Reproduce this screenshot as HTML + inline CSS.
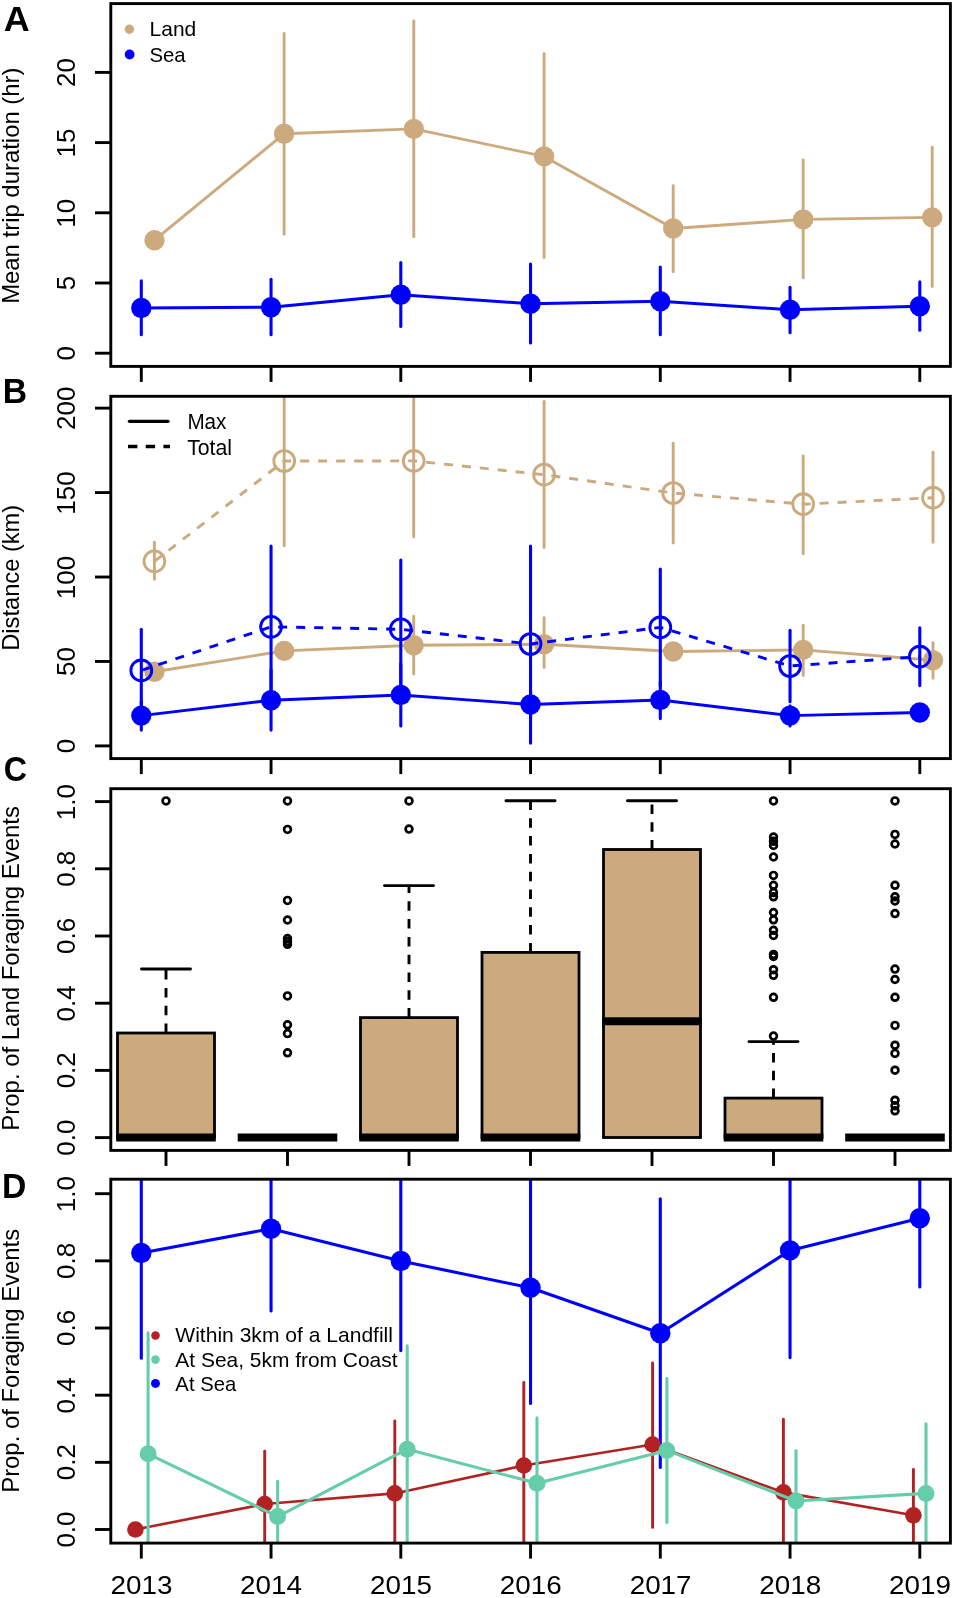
<!DOCTYPE html>
<html><head><meta charset="utf-8"><style>html,body{margin:0;padding:0;background:#fff;}svg{display:block;filter:blur(0.45px);}text{font-family:"Liberation Sans",sans-serif;}</style></head><body>
<svg width="955" height="1598" viewBox="0 0 955 1598" font-family="Liberation Sans, sans-serif">
<rect width="955" height="1598" fill="#fff"/>
<defs><clipPath id="cA"><rect x="110.8" y="3.6" width="839.6" height="362.8"/></clipPath><clipPath id="cB"><rect x="110.8" y="396.3" width="839.6" height="362.3"/></clipPath><clipPath id="cC"><rect x="110.8" y="788.7" width="839.6" height="361.7"/></clipPath><clipPath id="cD"><rect x="110.8" y="1179.2" width="839.6" height="363.9"/></clipPath></defs>
<g clip-path="url(#cA)">
<polyline points="154.5,240.2 284.1,133.8 413.8,128.9 544.1,156.4 673.2,228.5 803.2,219.4 932.2,217.4" fill="none" stroke="#CDAA7D" stroke-width="2.9" stroke-linejoin="round" stroke-linecap="butt"/>
<line x1="284.1" y1="33.4" x2="284.1" y2="234.2" stroke="#CDAA7D" stroke-width="2.9" stroke-linecap="round"/>
<line x1="413.8" y1="21" x2="413.8" y2="236.8" stroke="#CDAA7D" stroke-width="2.9" stroke-linecap="round"/>
<line x1="544.1" y1="53.7" x2="544.1" y2="257.6" stroke="#CDAA7D" stroke-width="2.9" stroke-linecap="round"/>
<line x1="673.2" y1="185.8" x2="673.2" y2="271.8" stroke="#CDAA7D" stroke-width="2.9" stroke-linecap="round"/>
<line x1="803.2" y1="159.9" x2="803.2" y2="277.9" stroke="#CDAA7D" stroke-width="2.9" stroke-linecap="round"/>
<line x1="932.2" y1="147.2" x2="932.2" y2="286.6" stroke="#CDAA7D" stroke-width="2.9" stroke-linecap="round"/>
<circle cx="154.5" cy="240.2" r="10.2" fill="#CDAA7D"/>
<circle cx="284.1" cy="133.8" r="10.2" fill="#CDAA7D"/>
<circle cx="413.8" cy="128.9" r="10.2" fill="#CDAA7D"/>
<circle cx="544.1" cy="156.4" r="10.2" fill="#CDAA7D"/>
<circle cx="673.2" cy="228.5" r="10.2" fill="#CDAA7D"/>
<circle cx="803.2" cy="219.4" r="10.2" fill="#CDAA7D"/>
<circle cx="932.2" cy="217.4" r="10.2" fill="#CDAA7D"/>
<polyline points="141.3,308 271.05,307.2 400.8,294.8 530.55,303.7 660.3,301.2 790.05,309.8 919.8,306.2" fill="none" stroke="#0000FF" stroke-width="2.9" stroke-linejoin="round" stroke-linecap="butt"/>
<line x1="141.3" y1="280.9" x2="141.3" y2="334.8" stroke="#0000FF" stroke-width="3.1" stroke-linecap="round"/>
<line x1="271.05" y1="279.2" x2="271.05" y2="334.8" stroke="#0000FF" stroke-width="3.1" stroke-linecap="round"/>
<line x1="400.8" y1="262.6" x2="400.8" y2="326.5" stroke="#0000FF" stroke-width="3.1" stroke-linecap="round"/>
<line x1="530.55" y1="264" x2="530.55" y2="342.9" stroke="#0000FF" stroke-width="3.1" stroke-linecap="round"/>
<line x1="660.3" y1="267" x2="660.3" y2="334.8" stroke="#0000FF" stroke-width="3.1" stroke-linecap="round"/>
<line x1="790.05" y1="287.4" x2="790.05" y2="332.8" stroke="#0000FF" stroke-width="3.1" stroke-linecap="round"/>
<line x1="919.8" y1="281.7" x2="919.8" y2="330.2" stroke="#0000FF" stroke-width="3.1" stroke-linecap="round"/>
<circle cx="141.3" cy="308" r="10.2" fill="#0000FF"/>
<circle cx="271.05" cy="307.2" r="10.2" fill="#0000FF"/>
<circle cx="400.8" cy="294.8" r="10.2" fill="#0000FF"/>
<circle cx="530.55" cy="303.7" r="10.2" fill="#0000FF"/>
<circle cx="660.3" cy="301.2" r="10.2" fill="#0000FF"/>
<circle cx="790.05" cy="309.8" r="10.2" fill="#0000FF"/>
<circle cx="919.8" cy="306.2" r="10.2" fill="#0000FF"/>
</g>
<rect x="110.8" y="3.6" width="839.6" height="362.8" fill="none" stroke="#000" stroke-width="2.9"/>
<line x1="95" y1="353.2" x2="110.8" y2="353.2" stroke="#000" stroke-width="2.9"/>
<text transform="translate(74.8,360.45) rotate(-90)" font-size="26" textLength="14.46" lengthAdjust="spacingAndGlyphs" fill="#000">0</text>
<line x1="95" y1="283" x2="110.8" y2="283" stroke="#000" stroke-width="2.9"/>
<text transform="translate(74.8,290.2) rotate(-90)" font-size="26" textLength="14.46" lengthAdjust="spacingAndGlyphs" fill="#000">5</text>
<line x1="95" y1="212.8" x2="110.8" y2="212.8" stroke="#000" stroke-width="2.9"/>
<text transform="translate(74.8,227.75) rotate(-90)" font-size="26" textLength="28.92" lengthAdjust="spacingAndGlyphs" fill="#000">10</text>
<line x1="95" y1="142.6" x2="110.8" y2="142.6" stroke="#000" stroke-width="2.9"/>
<text transform="translate(74.8,157.5) rotate(-90)" font-size="26" textLength="28.92" lengthAdjust="spacingAndGlyphs" fill="#000">15</text>
<line x1="95" y1="72.4" x2="110.8" y2="72.4" stroke="#000" stroke-width="2.9"/>
<text transform="translate(74.8,87.01) rotate(-90)" font-size="26" textLength="28.92" lengthAdjust="spacingAndGlyphs" fill="#000">20</text>
<line x1="141.3" y1="366.4" x2="141.3" y2="381.9" stroke="#000" stroke-width="2.9"/>
<line x1="271.05" y1="366.4" x2="271.05" y2="381.9" stroke="#000" stroke-width="2.9"/>
<line x1="400.8" y1="366.4" x2="400.8" y2="381.9" stroke="#000" stroke-width="2.9"/>
<line x1="530.55" y1="366.4" x2="530.55" y2="381.9" stroke="#000" stroke-width="2.9"/>
<line x1="660.3" y1="366.4" x2="660.3" y2="381.9" stroke="#000" stroke-width="2.9"/>
<line x1="790.05" y1="366.4" x2="790.05" y2="381.9" stroke="#000" stroke-width="2.9"/>
<line x1="919.8" y1="366.4" x2="919.8" y2="381.9" stroke="#000" stroke-width="2.9"/>
<circle cx="129.4" cy="29.2" r="4.7" fill="#CDAA7D"/>
<circle cx="129.6" cy="54.5" r="4.9" fill="#0000FF"/>
<text x="149.58" y="36.4" font-size="21" font-weight="normal" textLength="46.68" lengthAdjust="spacingAndGlyphs" fill="#000">Land</text>
<text x="149.47" y="61.8" font-size="21" font-weight="normal" textLength="36.12" lengthAdjust="spacingAndGlyphs" fill="#000">Sea</text>
<g clip-path="url(#cB)">
<polyline points="154.4,561.3 284.2,461 413.7,460.9 544.1,474.7 673.2,493 803.2,504.2 933,497.7" fill="none" stroke="#CDAA7D" stroke-width="2.9" stroke-linejoin="round" stroke-linecap="butt" stroke-dasharray="9 9" stroke-dashoffset="0"/>
<line x1="154.4" y1="542.3" x2="154.4" y2="579.3" stroke="#CDAA7D" stroke-width="2.9" stroke-linecap="round"/>
<line x1="284.2" y1="376.4" x2="284.2" y2="545.8" stroke="#CDAA7D" stroke-width="2.9" stroke-linecap="round"/>
<line x1="413.7" y1="381.4" x2="413.7" y2="537.1" stroke="#CDAA7D" stroke-width="2.9" stroke-linecap="round"/>
<line x1="544.1" y1="401.4" x2="544.1" y2="547.5" stroke="#CDAA7D" stroke-width="2.9" stroke-linecap="round"/>
<line x1="673.2" y1="443.2" x2="673.2" y2="543.1" stroke="#CDAA7D" stroke-width="2.9" stroke-linecap="round"/>
<line x1="803.2" y1="455.9" x2="803.2" y2="553.7" stroke="#CDAA7D" stroke-width="2.9" stroke-linecap="round"/>
<line x1="933" y1="452.3" x2="933" y2="542.2" stroke="#CDAA7D" stroke-width="2.9" stroke-linecap="round"/>
<circle cx="154.4" cy="561.3" r="10.4" fill="none" stroke="#CDAA7D" stroke-width="2.9"/>
<circle cx="284.2" cy="461" r="10.4" fill="none" stroke="#CDAA7D" stroke-width="2.9"/>
<circle cx="413.7" cy="460.9" r="10.4" fill="none" stroke="#CDAA7D" stroke-width="2.9"/>
<circle cx="544.1" cy="474.7" r="10.4" fill="none" stroke="#CDAA7D" stroke-width="2.9"/>
<circle cx="673.2" cy="493" r="10.4" fill="none" stroke="#CDAA7D" stroke-width="2.9"/>
<circle cx="803.2" cy="504.2" r="10.4" fill="none" stroke="#CDAA7D" stroke-width="2.9"/>
<circle cx="933" cy="497.7" r="10.4" fill="none" stroke="#CDAA7D" stroke-width="2.9"/>
<polyline points="154.4,671.8 284.2,650.9 413.7,645.2 544.1,644.2 673.2,651.5 803.2,649.9 933,660.3" fill="none" stroke="#CDAA7D" stroke-width="2.9" stroke-linejoin="round" stroke-linecap="butt"/>
<line x1="413.7" y1="616.1" x2="413.7" y2="674" stroke="#CDAA7D" stroke-width="2.9" stroke-linecap="round"/>
<line x1="544.1" y1="617.8" x2="544.1" y2="667.4" stroke="#CDAA7D" stroke-width="2.9" stroke-linecap="round"/>
<line x1="803.2" y1="625.3" x2="803.2" y2="675.6" stroke="#CDAA7D" stroke-width="2.9" stroke-linecap="round"/>
<line x1="933" y1="642.7" x2="933" y2="678.2" stroke="#CDAA7D" stroke-width="2.9" stroke-linecap="round"/>
<circle cx="154.4" cy="671.8" r="10.2" fill="#CDAA7D"/>
<circle cx="284.2" cy="650.9" r="10.2" fill="#CDAA7D"/>
<circle cx="413.7" cy="645.2" r="10.2" fill="#CDAA7D"/>
<circle cx="544.1" cy="644.2" r="10.2" fill="#CDAA7D"/>
<circle cx="673.2" cy="651.5" r="10.2" fill="#CDAA7D"/>
<circle cx="803.2" cy="649.9" r="10.2" fill="#CDAA7D"/>
<circle cx="933" cy="660.3" r="10.2" fill="#CDAA7D"/>
<polyline points="141.3,670.4 271.05,626.8 400.8,629.3 530.55,644 660.3,627.4 790.05,666 919.8,656.6" fill="none" stroke="#0000FF" stroke-width="2.9" stroke-linejoin="round" stroke-linecap="butt" stroke-dasharray="9 9" stroke-dashoffset="0"/>
<line x1="141.3" y1="629.2" x2="141.3" y2="711.6" stroke="#0000FF" stroke-width="3.1" stroke-linecap="round"/>
<line x1="271.05" y1="546.1" x2="271.05" y2="707.5" stroke="#0000FF" stroke-width="3.1" stroke-linecap="round"/>
<line x1="400.8" y1="560.1" x2="400.8" y2="698.5" stroke="#0000FF" stroke-width="3.1" stroke-linecap="round"/>
<line x1="530.55" y1="546.1" x2="530.55" y2="743.1" stroke="#0000FF" stroke-width="3.1" stroke-linecap="round"/>
<line x1="660.3" y1="569.1" x2="660.3" y2="685.7" stroke="#0000FF" stroke-width="3.1" stroke-linecap="round"/>
<line x1="790.05" y1="630.3" x2="790.05" y2="701.7" stroke="#0000FF" stroke-width="3.1" stroke-linecap="round"/>
<line x1="919.8" y1="627.8" x2="919.8" y2="685.6" stroke="#0000FF" stroke-width="3.1" stroke-linecap="round"/>
<circle cx="141.3" cy="670.4" r="10.4" fill="none" stroke="#0000FF" stroke-width="2.9"/>
<circle cx="271.05" cy="626.8" r="10.4" fill="none" stroke="#0000FF" stroke-width="2.9"/>
<circle cx="400.8" cy="629.3" r="10.4" fill="none" stroke="#0000FF" stroke-width="2.9"/>
<circle cx="530.55" cy="644" r="10.4" fill="none" stroke="#0000FF" stroke-width="2.9"/>
<circle cx="660.3" cy="627.4" r="10.4" fill="none" stroke="#0000FF" stroke-width="2.9"/>
<circle cx="790.05" cy="666" r="10.4" fill="none" stroke="#0000FF" stroke-width="2.9"/>
<circle cx="919.8" cy="656.6" r="10.4" fill="none" stroke="#0000FF" stroke-width="2.9"/>
<polyline points="141.3,715.6 271.05,700.2 400.8,695 530.55,704.5 660.3,700 790.05,715.6 919.8,712.5" fill="none" stroke="#0000FF" stroke-width="2.9" stroke-linejoin="round" stroke-linecap="butt"/>
<line x1="141.3" y1="701.4" x2="141.3" y2="730.1" stroke="#0000FF" stroke-width="3.1" stroke-linecap="round"/>
<line x1="271.05" y1="670.1" x2="271.05" y2="730.1" stroke="#0000FF" stroke-width="3.1" stroke-linecap="round"/>
<line x1="400.8" y1="663.9" x2="400.8" y2="725.9" stroke="#0000FF" stroke-width="3.1" stroke-linecap="round"/>
<line x1="530.55" y1="691.4" x2="530.55" y2="718.6" stroke="#0000FF" stroke-width="3.1" stroke-linecap="round"/>
<line x1="660.3" y1="681.6" x2="660.3" y2="718.6" stroke="#0000FF" stroke-width="3.1" stroke-linecap="round"/>
<line x1="790.05" y1="705.7" x2="790.05" y2="725.9" stroke="#0000FF" stroke-width="3.1" stroke-linecap="round"/>
<circle cx="141.3" cy="715.6" r="10.2" fill="#0000FF"/>
<circle cx="271.05" cy="700.2" r="10.2" fill="#0000FF"/>
<circle cx="400.8" cy="695" r="10.2" fill="#0000FF"/>
<circle cx="530.55" cy="704.5" r="10.2" fill="#0000FF"/>
<circle cx="660.3" cy="700" r="10.2" fill="#0000FF"/>
<circle cx="790.05" cy="715.6" r="10.2" fill="#0000FF"/>
<circle cx="919.8" cy="712.5" r="10.2" fill="#0000FF"/>
</g>
<rect x="110.8" y="396.3" width="839.6" height="362.3" fill="none" stroke="#000" stroke-width="2.9"/>
<line x1="95" y1="745.9" x2="110.8" y2="745.9" stroke="#000" stroke-width="2.9"/>
<text transform="translate(74.8,753.15) rotate(-90)" font-size="26" textLength="14.46" lengthAdjust="spacingAndGlyphs" fill="#000">0</text>
<line x1="95" y1="661.46" x2="110.8" y2="661.46" stroke="#000" stroke-width="2.9"/>
<text transform="translate(74.8,675.94) rotate(-90)" font-size="26" textLength="28.92" lengthAdjust="spacingAndGlyphs" fill="#000">50</text>
<line x1="95" y1="577.02" x2="110.8" y2="577.02" stroke="#000" stroke-width="2.9"/>
<text transform="translate(74.8,599.2) rotate(-90)" font-size="26" textLength="43.38" lengthAdjust="spacingAndGlyphs" fill="#000">100</text>
<line x1="95" y1="492.58" x2="110.8" y2="492.58" stroke="#000" stroke-width="2.9"/>
<text transform="translate(74.8,514.76) rotate(-90)" font-size="26" textLength="43.38" lengthAdjust="spacingAndGlyphs" fill="#000">150</text>
<line x1="95" y1="408.14" x2="110.8" y2="408.14" stroke="#000" stroke-width="2.9"/>
<text transform="translate(74.8,429.98) rotate(-90)" font-size="26" textLength="43.38" lengthAdjust="spacingAndGlyphs" fill="#000">200</text>
<line x1="141.3" y1="758.6" x2="141.3" y2="774.1" stroke="#000" stroke-width="2.9"/>
<line x1="271.05" y1="758.6" x2="271.05" y2="774.1" stroke="#000" stroke-width="2.9"/>
<line x1="400.8" y1="758.6" x2="400.8" y2="774.1" stroke="#000" stroke-width="2.9"/>
<line x1="530.55" y1="758.6" x2="530.55" y2="774.1" stroke="#000" stroke-width="2.9"/>
<line x1="660.3" y1="758.6" x2="660.3" y2="774.1" stroke="#000" stroke-width="2.9"/>
<line x1="790.05" y1="758.6" x2="790.05" y2="774.1" stroke="#000" stroke-width="2.9"/>
<line x1="919.8" y1="758.6" x2="919.8" y2="774.1" stroke="#000" stroke-width="2.9"/>
<line x1="129.5" y1="421.3" x2="168" y2="421.3" stroke="#000" stroke-width="3.3" stroke-linecap="round"/>
<line x1="128" y1="446.5" x2="170" y2="446.5" stroke="#000" stroke-width="3.3" stroke-dasharray="9.4 8.3"/>
<text x="187.41" y="428.7" font-size="21.5" font-weight="normal" textLength="39.02" lengthAdjust="spacingAndGlyphs" fill="#000">Max</text>
<text x="187.13" y="454.5" font-size="21.3" font-weight="normal" textLength="44.88" lengthAdjust="spacingAndGlyphs" fill="#000">Total</text>
<g clip-path="url(#cC)">
<line x1="166" y1="1033" x2="166" y2="969" stroke="#000" stroke-width="2.9" stroke-dasharray="9.5 8.3"/>
<line x1="141.5" y1="969" x2="190.5" y2="969" stroke="#000" stroke-width="2.9" stroke-linecap="round"/>
<rect x="117.5" y="1033" width="97" height="104.5" fill="#CDAA7D" stroke="#000" stroke-width="2.8"/>
<line x1="116.2" y1="1137.5" x2="215.8" y2="1137.5" stroke="#000" stroke-width="8"/>
<circle cx="166" cy="800.9" r="3.4" fill="none" stroke="#000" stroke-width="2.7"/>
<line x1="237.7" y1="1137.5" x2="337.3" y2="1137.5" stroke="#000" stroke-width="8"/>
<circle cx="287.5" cy="800.9" r="3.4" fill="none" stroke="#000" stroke-width="2.7"/>
<circle cx="287.5" cy="829.4" r="3.4" fill="none" stroke="#000" stroke-width="2.7"/>
<circle cx="287.5" cy="900.4" r="3.4" fill="none" stroke="#000" stroke-width="2.7"/>
<circle cx="287.5" cy="920" r="3.4" fill="none" stroke="#000" stroke-width="2.7"/>
<circle cx="287.5" cy="938.6" r="3.4" fill="none" stroke="#000" stroke-width="2.7"/>
<circle cx="287.5" cy="941.5" r="3.4" fill="none" stroke="#000" stroke-width="2.7"/>
<circle cx="287.5" cy="944.3" r="3.4" fill="none" stroke="#000" stroke-width="2.7"/>
<circle cx="287.5" cy="995.9" r="3.4" fill="none" stroke="#000" stroke-width="2.7"/>
<circle cx="287.5" cy="1024.8" r="3.4" fill="none" stroke="#000" stroke-width="2.7"/>
<circle cx="287.5" cy="1033.6" r="3.4" fill="none" stroke="#000" stroke-width="2.7"/>
<circle cx="287.5" cy="1052.8" r="3.4" fill="none" stroke="#000" stroke-width="2.7"/>
<line x1="409" y1="1017.6" x2="409" y2="885.6" stroke="#000" stroke-width="2.9" stroke-dasharray="9.5 8.3"/>
<line x1="384.5" y1="885.6" x2="433.5" y2="885.6" stroke="#000" stroke-width="2.9" stroke-linecap="round"/>
<rect x="360.5" y="1017.6" width="97" height="119.9" fill="#CDAA7D" stroke="#000" stroke-width="2.8"/>
<line x1="359.2" y1="1137.5" x2="458.8" y2="1137.5" stroke="#000" stroke-width="8"/>
<circle cx="409" cy="800.9" r="3.4" fill="none" stroke="#000" stroke-width="2.7"/>
<circle cx="409" cy="829.1" r="3.4" fill="none" stroke="#000" stroke-width="2.7"/>
<line x1="530.5" y1="952.4" x2="530.5" y2="800.7" stroke="#000" stroke-width="2.9" stroke-dasharray="9.5 8.3"/>
<line x1="506" y1="800.7" x2="555" y2="800.7" stroke="#000" stroke-width="2.9" stroke-linecap="round"/>
<rect x="482" y="952.4" width="97" height="185.1" fill="#CDAA7D" stroke="#000" stroke-width="2.8"/>
<line x1="480.7" y1="1137.5" x2="580.3" y2="1137.5" stroke="#000" stroke-width="8"/>
<line x1="652" y1="849.5" x2="652" y2="800.7" stroke="#000" stroke-width="2.9" stroke-dasharray="9.5 8.3"/>
<line x1="627.5" y1="800.7" x2="676.5" y2="800.7" stroke="#000" stroke-width="2.9" stroke-linecap="round"/>
<rect x="603.5" y="849.5" width="97" height="288" fill="#CDAA7D" stroke="#000" stroke-width="2.8"/>
<line x1="602.2" y1="1021.2" x2="701.8" y2="1021.2" stroke="#000" stroke-width="8"/>
<line x1="773.5" y1="1098.1" x2="773.5" y2="1041.6" stroke="#000" stroke-width="2.9" stroke-dasharray="9.5 8.3"/>
<line x1="749" y1="1041.6" x2="798" y2="1041.6" stroke="#000" stroke-width="2.9" stroke-linecap="round"/>
<rect x="725" y="1098.1" width="97" height="39.4" fill="#CDAA7D" stroke="#000" stroke-width="2.8"/>
<line x1="723.7" y1="1137.5" x2="823.3" y2="1137.5" stroke="#000" stroke-width="8"/>
<circle cx="773.5" cy="800.9" r="3.4" fill="none" stroke="#000" stroke-width="2.7"/>
<circle cx="773.5" cy="837.1" r="3.4" fill="none" stroke="#000" stroke-width="2.7"/>
<circle cx="773.5" cy="841.3" r="3.4" fill="none" stroke="#000" stroke-width="2.7"/>
<circle cx="773.5" cy="845.5" r="3.4" fill="none" stroke="#000" stroke-width="2.7"/>
<circle cx="773.5" cy="857" r="3.4" fill="none" stroke="#000" stroke-width="2.7"/>
<circle cx="773.5" cy="875.4" r="3.4" fill="none" stroke="#000" stroke-width="2.7"/>
<circle cx="773.5" cy="885.3" r="3.4" fill="none" stroke="#000" stroke-width="2.7"/>
<circle cx="773.5" cy="892.6" r="3.4" fill="none" stroke="#000" stroke-width="2.7"/>
<circle cx="773.5" cy="896.8" r="3.4" fill="none" stroke="#000" stroke-width="2.7"/>
<circle cx="773.5" cy="912.5" r="3.4" fill="none" stroke="#000" stroke-width="2.7"/>
<circle cx="773.5" cy="919.8" r="3.4" fill="none" stroke="#000" stroke-width="2.7"/>
<circle cx="773.5" cy="930.3" r="3.4" fill="none" stroke="#000" stroke-width="2.7"/>
<circle cx="773.5" cy="935.5" r="3.4" fill="none" stroke="#000" stroke-width="2.7"/>
<circle cx="773.5" cy="954.4" r="3.4" fill="none" stroke="#000" stroke-width="2.7"/>
<circle cx="773.5" cy="956.5" r="3.4" fill="none" stroke="#000" stroke-width="2.7"/>
<circle cx="773.5" cy="969.7" r="3.4" fill="none" stroke="#000" stroke-width="2.7"/>
<circle cx="773.5" cy="975.3" r="3.4" fill="none" stroke="#000" stroke-width="2.7"/>
<circle cx="773.5" cy="997.3" r="3.4" fill="none" stroke="#000" stroke-width="2.7"/>
<circle cx="773.5" cy="1036.1" r="3.4" fill="none" stroke="#000" stroke-width="2.7"/>
<line x1="845.2" y1="1137.5" x2="944.8" y2="1137.5" stroke="#000" stroke-width="8"/>
<circle cx="895" cy="800.9" r="3.4" fill="none" stroke="#000" stroke-width="2.7"/>
<circle cx="895" cy="834.4" r="3.4" fill="none" stroke="#000" stroke-width="2.7"/>
<circle cx="895" cy="844" r="3.4" fill="none" stroke="#000" stroke-width="2.7"/>
<circle cx="895" cy="885.3" r="3.4" fill="none" stroke="#000" stroke-width="2.7"/>
<circle cx="895" cy="896.8" r="3.4" fill="none" stroke="#000" stroke-width="2.7"/>
<circle cx="895" cy="901" r="3.4" fill="none" stroke="#000" stroke-width="2.7"/>
<circle cx="895" cy="913.6" r="3.4" fill="none" stroke="#000" stroke-width="2.7"/>
<circle cx="895" cy="969.1" r="3.4" fill="none" stroke="#000" stroke-width="2.7"/>
<circle cx="895" cy="979.5" r="3.4" fill="none" stroke="#000" stroke-width="2.7"/>
<circle cx="895" cy="997.3" r="3.4" fill="none" stroke="#000" stroke-width="2.7"/>
<circle cx="895" cy="1025.4" r="3.4" fill="none" stroke="#000" stroke-width="2.7"/>
<circle cx="895" cy="1045.2" r="3.4" fill="none" stroke="#000" stroke-width="2.7"/>
<circle cx="895" cy="1053.4" r="3.4" fill="none" stroke="#000" stroke-width="2.7"/>
<circle cx="895" cy="1070.2" r="3.4" fill="none" stroke="#000" stroke-width="2.7"/>
<circle cx="895" cy="1100.2" r="3.4" fill="none" stroke="#000" stroke-width="2.7"/>
<circle cx="895" cy="1105.8" r="3.4" fill="none" stroke="#000" stroke-width="2.7"/>
<circle cx="895" cy="1110.8" r="3.4" fill="none" stroke="#000" stroke-width="2.7"/>
</g>
<rect x="110.8" y="788.7" width="839.6" height="361.7" fill="none" stroke="#000" stroke-width="2.9"/>
<line x1="95" y1="1137.6" x2="110.8" y2="1137.6" stroke="#000" stroke-width="2.9"/>
<text transform="translate(74.8,1155.7) rotate(-90)" font-size="26" textLength="36.14" lengthAdjust="spacingAndGlyphs" fill="#000">0.0</text>
<line x1="95" y1="1070.4" x2="110.8" y2="1070.4" stroke="#000" stroke-width="2.9"/>
<text transform="translate(74.8,1088.34) rotate(-90)" font-size="26" textLength="36.14" lengthAdjust="spacingAndGlyphs" fill="#000">0.2</text>
<line x1="95" y1="1003.2" x2="110.8" y2="1003.2" stroke="#000" stroke-width="2.9"/>
<text transform="translate(74.8,1021.4) rotate(-90)" font-size="26" textLength="36.14" lengthAdjust="spacingAndGlyphs" fill="#000">0.4</text>
<line x1="95" y1="936" x2="110.8" y2="936" stroke="#000" stroke-width="2.9"/>
<text transform="translate(74.8,954.02) rotate(-90)" font-size="26" textLength="36.14" lengthAdjust="spacingAndGlyphs" fill="#000">0.6</text>
<line x1="95" y1="868.8" x2="110.8" y2="868.8" stroke="#000" stroke-width="2.9"/>
<text transform="translate(74.8,886.82) rotate(-90)" font-size="26" textLength="36.14" lengthAdjust="spacingAndGlyphs" fill="#000">0.8</text>
<line x1="95" y1="801.6" x2="110.8" y2="801.6" stroke="#000" stroke-width="2.9"/>
<text transform="translate(74.8,820.16) rotate(-90)" font-size="26" textLength="36.14" lengthAdjust="spacingAndGlyphs" fill="#000">1.0</text>
<line x1="166" y1="1150.4" x2="166" y2="1165.9" stroke="#000" stroke-width="2.9"/>
<line x1="287.5" y1="1150.4" x2="287.5" y2="1165.9" stroke="#000" stroke-width="2.9"/>
<line x1="409" y1="1150.4" x2="409" y2="1165.9" stroke="#000" stroke-width="2.9"/>
<line x1="530.5" y1="1150.4" x2="530.5" y2="1165.9" stroke="#000" stroke-width="2.9"/>
<line x1="652" y1="1150.4" x2="652" y2="1165.9" stroke="#000" stroke-width="2.9"/>
<line x1="773.5" y1="1150.4" x2="773.5" y2="1165.9" stroke="#000" stroke-width="2.9"/>
<line x1="895" y1="1150.4" x2="895" y2="1165.9" stroke="#000" stroke-width="2.9"/>
<g clip-path="url(#cD)">
<polyline points="141.3,1253 271.05,1228.7 400.8,1261 530.55,1287.8 660.3,1333.2 790.05,1250.4 919.8,1218.3" fill="none" stroke="#0000FF" stroke-width="3.1" stroke-linejoin="round" stroke-linecap="butt"/>
<line x1="141.3" y1="1147.4" x2="141.3" y2="1358.3" stroke="#0000FF" stroke-width="3.1" stroke-linecap="round"/>
<line x1="271.05" y1="1146.2" x2="271.05" y2="1310.9" stroke="#0000FF" stroke-width="3.1" stroke-linecap="round"/>
<line x1="400.8" y1="1168.4" x2="400.8" y2="1350.6" stroke="#0000FF" stroke-width="3.1" stroke-linecap="round"/>
<line x1="530.55" y1="1172.2" x2="530.55" y2="1403.4" stroke="#0000FF" stroke-width="3.1" stroke-linecap="round"/>
<line x1="660.3" y1="1198.8" x2="660.3" y2="1467.4" stroke="#0000FF" stroke-width="3.1" stroke-linecap="round"/>
<line x1="790.05" y1="1143.2" x2="790.05" y2="1357.6" stroke="#0000FF" stroke-width="3.1" stroke-linecap="round"/>
<line x1="919.8" y1="1149.4" x2="919.8" y2="1287" stroke="#0000FF" stroke-width="3.1" stroke-linecap="round"/>
<circle cx="141.3" cy="1253" r="10.2" fill="#0000FF"/>
<circle cx="271.05" cy="1228.7" r="10.2" fill="#0000FF"/>
<circle cx="400.8" cy="1261" r="10.2" fill="#0000FF"/>
<circle cx="530.55" cy="1287.8" r="10.2" fill="#0000FF"/>
<circle cx="660.3" cy="1333.2" r="10.2" fill="#0000FF"/>
<circle cx="790.05" cy="1250.4" r="10.2" fill="#0000FF"/>
<circle cx="919.8" cy="1218.3" r="10.2" fill="#0000FF"/>
<polyline points="135.4,1529.5 264.7,1504 394.8,1493.4 523.8,1465.5 652.6,1444.5 783.4,1492.4 913.4,1515.3" fill="none" stroke="#B22222" stroke-width="2.6" stroke-linejoin="round" stroke-linecap="butt"/>
<line x1="264.7" y1="1451.3" x2="264.7" y2="1558.6" stroke="#B22222" stroke-width="2.9" stroke-linecap="round"/>
<line x1="394.8" y1="1420.9" x2="394.8" y2="1566.6" stroke="#B22222" stroke-width="2.9" stroke-linecap="round"/>
<line x1="523.8" y1="1382.4" x2="523.8" y2="1548.6" stroke="#B22222" stroke-width="2.9" stroke-linecap="round"/>
<line x1="652.6" y1="1362.9" x2="652.6" y2="1527.4" stroke="#B22222" stroke-width="2.9" stroke-linecap="round"/>
<line x1="783.4" y1="1419.2" x2="783.4" y2="1565.6" stroke="#B22222" stroke-width="2.9" stroke-linecap="round"/>
<line x1="913.4" y1="1469.4" x2="913.4" y2="1561.6" stroke="#B22222" stroke-width="2.9" stroke-linecap="round"/>
<circle cx="135.4" cy="1529.5" r="8.3" fill="#B22222"/>
<circle cx="264.7" cy="1504" r="8.3" fill="#B22222"/>
<circle cx="394.8" cy="1493.4" r="8.3" fill="#B22222"/>
<circle cx="523.8" cy="1465.5" r="8.3" fill="#B22222"/>
<circle cx="652.6" cy="1444.5" r="8.3" fill="#B22222"/>
<circle cx="783.4" cy="1492.4" r="8.3" fill="#B22222"/>
<circle cx="913.4" cy="1515.3" r="8.3" fill="#B22222"/>
<polyline points="148.1,1453.8 277.6,1516.6 407.2,1449.2 537,1483.3 666.9,1450.4 796,1501 926,1493.4" fill="none" stroke="#66CDAA" stroke-width="3.1" stroke-linejoin="round" stroke-linecap="butt"/>
<line x1="148.1" y1="1332.9" x2="148.1" y2="1578.6" stroke="#66CDAA" stroke-width="3.1" stroke-linecap="round"/>
<line x1="277.6" y1="1481.4" x2="277.6" y2="1551.6" stroke="#66CDAA" stroke-width="3.1" stroke-linecap="round"/>
<line x1="407.2" y1="1345.9" x2="407.2" y2="1558.6" stroke="#66CDAA" stroke-width="3.1" stroke-linecap="round"/>
<line x1="537" y1="1417.9" x2="537" y2="1548.6" stroke="#66CDAA" stroke-width="3.1" stroke-linecap="round"/>
<line x1="666.9" y1="1378.4" x2="666.9" y2="1522.4" stroke="#66CDAA" stroke-width="3.1" stroke-linecap="round"/>
<line x1="796" y1="1450.6" x2="796" y2="1551.6" stroke="#66CDAA" stroke-width="3.1" stroke-linecap="round"/>
<line x1="926" y1="1423.7" x2="926" y2="1563.6" stroke="#66CDAA" stroke-width="3.1" stroke-linecap="round"/>
<circle cx="148.1" cy="1453.8" r="8.5" fill="#66CDAA"/>
<circle cx="277.6" cy="1516.6" r="8.5" fill="#66CDAA"/>
<circle cx="407.2" cy="1449.2" r="8.5" fill="#66CDAA"/>
<circle cx="537" cy="1483.3" r="8.5" fill="#66CDAA"/>
<circle cx="666.9" cy="1450.4" r="8.5" fill="#66CDAA"/>
<circle cx="796" cy="1501" r="8.5" fill="#66CDAA"/>
<circle cx="926" cy="1493.4" r="8.5" fill="#66CDAA"/>
</g>
<rect x="110.8" y="1179.2" width="839.6" height="363.9" fill="none" stroke="#000" stroke-width="2.9"/>
<line x1="95" y1="1529.5" x2="110.8" y2="1529.5" stroke="#000" stroke-width="2.9"/>
<text transform="translate(74.8,1547.6) rotate(-90)" font-size="26" textLength="36.14" lengthAdjust="spacingAndGlyphs" fill="#000">0.0</text>
<line x1="95" y1="1462.34" x2="110.8" y2="1462.34" stroke="#000" stroke-width="2.9"/>
<text transform="translate(74.8,1480.28) rotate(-90)" font-size="26" textLength="36.14" lengthAdjust="spacingAndGlyphs" fill="#000">0.2</text>
<line x1="95" y1="1395.18" x2="110.8" y2="1395.18" stroke="#000" stroke-width="2.9"/>
<text transform="translate(74.8,1413.38) rotate(-90)" font-size="26" textLength="36.14" lengthAdjust="spacingAndGlyphs" fill="#000">0.4</text>
<line x1="95" y1="1328.02" x2="110.8" y2="1328.02" stroke="#000" stroke-width="2.9"/>
<text transform="translate(74.8,1346.04) rotate(-90)" font-size="26" textLength="36.14" lengthAdjust="spacingAndGlyphs" fill="#000">0.6</text>
<line x1="95" y1="1260.86" x2="110.8" y2="1260.86" stroke="#000" stroke-width="2.9"/>
<text transform="translate(74.8,1278.88) rotate(-90)" font-size="26" textLength="36.14" lengthAdjust="spacingAndGlyphs" fill="#000">0.8</text>
<line x1="95" y1="1193.7" x2="110.8" y2="1193.7" stroke="#000" stroke-width="2.9"/>
<text transform="translate(74.8,1212.26) rotate(-90)" font-size="26" textLength="36.14" lengthAdjust="spacingAndGlyphs" fill="#000">1.0</text>
<line x1="141.3" y1="1543.1" x2="141.3" y2="1558.6" stroke="#000" stroke-width="2.9"/>
<line x1="271.05" y1="1543.1" x2="271.05" y2="1558.6" stroke="#000" stroke-width="2.9"/>
<line x1="400.8" y1="1543.1" x2="400.8" y2="1558.6" stroke="#000" stroke-width="2.9"/>
<line x1="530.55" y1="1543.1" x2="530.55" y2="1558.6" stroke="#000" stroke-width="2.9"/>
<line x1="660.3" y1="1543.1" x2="660.3" y2="1558.6" stroke="#000" stroke-width="2.9"/>
<line x1="790.05" y1="1543.1" x2="790.05" y2="1558.6" stroke="#000" stroke-width="2.9"/>
<line x1="919.8" y1="1543.1" x2="919.8" y2="1558.6" stroke="#000" stroke-width="2.9"/>
<circle cx="155.5" cy="1335.5" r="4.3" fill="#B22222"/>
<circle cx="155.5" cy="1359.6" r="4.3" fill="#66CDAA"/>
<circle cx="155.5" cy="1383.4" r="4.5" fill="#0000FF"/>
<text x="175.32" y="1342" font-size="19.8" font-weight="normal" textLength="217.67" lengthAdjust="spacingAndGlyphs" fill="#000">Within 3km of a Landfill</text>
<text x="175.36" y="1366.9" font-size="19.8" font-weight="normal" textLength="222.19" lengthAdjust="spacingAndGlyphs" fill="#000">At Sea, 5km from Coast</text>
<text x="175.36" y="1390.8" font-size="19.8" font-weight="normal" textLength="60.84" lengthAdjust="spacingAndGlyphs" fill="#000">At Sea</text>
<text x="110.58" y="1594.2" font-size="26.5" textLength="61.9" lengthAdjust="spacingAndGlyphs" fill="#000">2013</text>
<text x="240.13" y="1594.2" font-size="26.5" textLength="61.9" lengthAdjust="spacingAndGlyphs" fill="#000">2014</text>
<text x="370.05" y="1594.2" font-size="26.5" textLength="61.9" lengthAdjust="spacingAndGlyphs" fill="#000">2015</text>
<text x="499.83" y="1594.2" font-size="26.5" textLength="61.9" lengthAdjust="spacingAndGlyphs" fill="#000">2016</text>
<text x="629.66" y="1594.2" font-size="26.5" textLength="61.9" lengthAdjust="spacingAndGlyphs" fill="#000">2017</text>
<text x="759.33" y="1594.2" font-size="26.5" textLength="61.9" lengthAdjust="spacingAndGlyphs" fill="#000">2018</text>
<text x="889.13" y="1594.2" font-size="26.5" textLength="61.9" lengthAdjust="spacingAndGlyphs" fill="#000">2019</text>
<text transform="translate(19,303.86) rotate(-90)" x="0" y="0" font-size="24" font-weight="normal" textLength="236.37" lengthAdjust="spacingAndGlyphs" fill="#000">Mean trip duration (hr)</text>
<text transform="translate(19,650.74) rotate(-90)" x="0" y="0" font-size="24" font-weight="normal" textLength="145.94" lengthAdjust="spacingAndGlyphs" fill="#000">Distance (km)</text>
<text transform="translate(19.2,1130.66) rotate(-90)" x="0" y="0" font-size="24" font-weight="normal" textLength="324.53" lengthAdjust="spacingAndGlyphs" fill="#000">Prop. of Land Foraging Events</text>
<text transform="translate(19.2,1492.76) rotate(-90)" x="0" y="0" font-size="24" font-weight="normal" textLength="263.91" lengthAdjust="spacingAndGlyphs" fill="#000">Prop. of Foraging Events</text>
<text x="3.76" y="31.3" font-size="34.7" font-weight="bold" textLength="25.98" lengthAdjust="spacingAndGlyphs" fill="#000">A</text>
<text x="2.68" y="402.6" font-size="35.9" font-weight="bold" textLength="24.27" lengthAdjust="spacingAndGlyphs" fill="#000">B</text>
<text x="3.75" y="781" font-size="35.7" font-weight="bold" textLength="23.26" lengthAdjust="spacingAndGlyphs" fill="#000">C</text>
<text x="2.07" y="1197.6" font-size="35.6" font-weight="bold" textLength="24.35" lengthAdjust="spacingAndGlyphs" fill="#000">D</text>
</svg>
</body></html>
